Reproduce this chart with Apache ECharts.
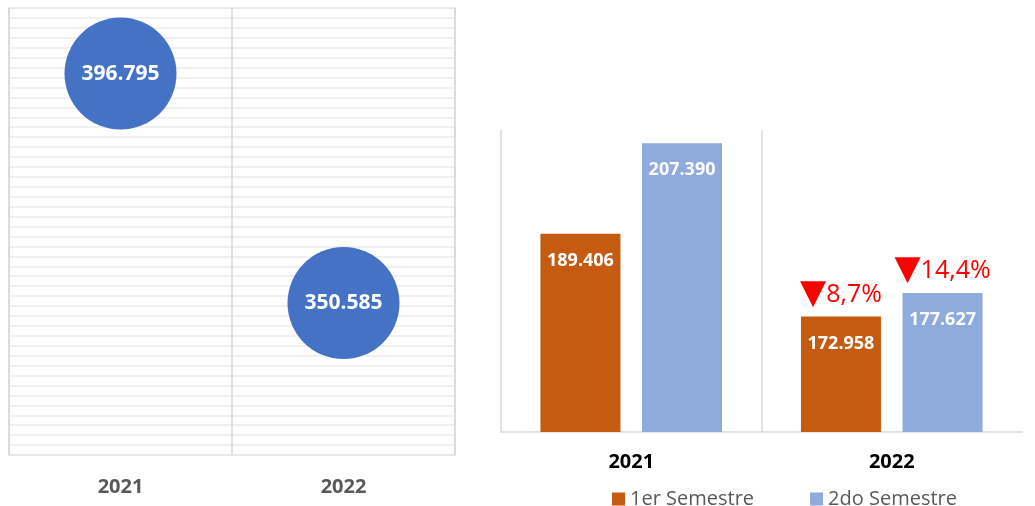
<!DOCTYPE html>
<html lang="es">
<head>
    <meta charset="utf-8" />
    <title>Semestres 2021 - 2022</title>
    <script type="text/javascript" src="https://cdn.jsdelivr.net/npm/echarts@6/dist/echarts.min.js"></script>
    <style>
        html, body { margin: 0; padding: 0; background: #fff; }
        #chart { width: 1035px; height: 506px; }
    </style>
</head>
<body>
    <div id="chart"></div>

    <script type="text/javascript">
        // datos
        var years = ['2021', '2022'];
        var totals = [396795, 350585];
        var sem1 = [189406, 172958];
        var sem2 = [207390, 177627];
        var drop1 = ['', '8,7%'];
        var drop2 = ['', '14,4%'];

        var font = 'Open Sans';

        function fmt(v) {
            return String(v).replace(/\B(?=(\d{3})+(?!\d))/g, '.');
        }

        function dropMarks(values, drops) {
            var out = [];
            for (var i = 0; i < values.length; i++) {
                if (drops[i] !== '') {
                    out.push({ coord: [i, values[i]], value: drops[i] });
                }
            }
            return out;
        }

        var dropLabel = {
            show: true,
            position: 'top',
            distance: 5,
            formatter: function (p) { return '{t|▼}{p|' + p.value + '}'; },
            rich: {
                t: { fontFamily: 'DejaVu Sans', fontSize: 34, color: '#ff0000', verticalAlign: 'bottom' },
                p: { fontFamily: font, fontSize: 25, color: '#ff0000', verticalAlign: 'bottom', padding: [0, 0, 4, 0] }
            }
        };

        var chart = echarts.init(document.getElementById('chart'));

        var option = {
            animation: false,
            textStyle: { fontFamily: font },
            grid: [
                { left: 9, top: 8, width: 446, height: 447, show: true, borderColor: '#d9d9d9', borderWidth: 1.5 },
                { left: 501, top: 130, width: 521, height: 302 }
            ],
            legend: {
                data: ['1er Semestre', '2do Semestre'],
                left: 607,
                top: 484,
                icon: 'rect',
                itemWidth: 13,
                itemHeight: 13,
                itemGap: 56,
                textStyle: { fontFamily: font, fontSize: 20, color: '#595959' }
            },
            xAxis: [{
                gridIndex: 0,
                type: 'category',
                data: years,
                boundaryGap: true,
                axisLine: { show: false },
                axisTick: { show: false },
                splitLine: { show: true, lineStyle: { color: '#d9d9d9', width: 1.5 } },
                axisLabel: { margin: 22, fontFamily: font, fontSize: 20, fontWeight: 'bold', color: '#595959' }
            }, {
                gridIndex: 1,
                type: 'category',
                data: years,
                boundaryGap: true,
                axisLine: { show: true, lineStyle: { color: '#d9d9d9', width: 1.5 } },
                axisTick: { show: false },
                splitLine: { show: true, showMaxLine: false, lineStyle: { color: '#d9d9d9', width: 1.5 } },
                axisLabel: { margin: 20, fontFamily: font, fontSize: 20, fontWeight: 'bold', color: '#000' }
            }],
            yAxis: [{
                gridIndex: 0,
                type: 'value',
                min: 320000,
                max: 410000,
                interval: 2000,
                axisLine: { show: false },
                axisTick: { show: false },
                axisLabel: { show: false },
                splitLine: { show: true, lineStyle: { color: '#ebebeb', width: 1.5 } }
            }, {
                gridIndex: 1,
                type: 'value',
                min: 150000,
                max: 210000,
                axisLine: { show: false },
                axisTick: { show: false },
                axisLabel: { show: false },
                splitLine: { show: false }
            }],
            series: [{
                type: 'scatter',
                xAxisIndex: 0,
                yAxisIndex: 0,
                symbolSize: 112,
                itemStyle: { color: '#4472c4', opacity: 1 },
                data: totals.map(function (v, i) { return [i, v]; }),
                label: {
                    show: true,
                    position: 'inside',
                    formatter: function (p) { return fmt(p.value[1]); },
                    fontFamily: font,
                    fontSize: 21,
                    fontWeight: 'bold',
                    color: '#fff'
                }
            }, {
                name: '1er Semestre',
                type: 'bar',
                xAxisIndex: 1,
                yAxisIndex: 1,
                barWidth: 80,
                barGap: '27%',
                itemStyle: { color: '#c55a11' },
                data: sem1,
                label: {
                    show: true,
                    position: 'insideTop',
                    distance: 18,
                    formatter: function (p) { return fmt(p.value); },
                    fontFamily: font,
                    fontSize: 18,
                    fontWeight: 'bold',
                    color: '#fff'
                },
                markPoint: {
                    symbol: 'circle',
                    symbolSize: 1,
                    itemStyle: { color: 'rgba(0,0,0,0)' },
                    label: dropLabel,
                    data: dropMarks(sem1, drop1)
                }
            }, {
                name: '2do Semestre',
                type: 'bar',
                xAxisIndex: 1,
                yAxisIndex: 1,
                barWidth: 80,
                itemStyle: { color: '#8faadc' },
                data: sem2,
                label: {
                    show: true,
                    position: 'insideTop',
                    distance: 18,
                    formatter: function (p) { return fmt(p.value); },
                    fontFamily: font,
                    fontSize: 18,
                    fontWeight: 'bold',
                    color: '#fff'
                },
                markPoint: {
                    symbol: 'circle',
                    symbolSize: 1,
                    itemStyle: { color: 'rgba(0,0,0,0)' },
                    label: dropLabel,
                    data: dropMarks(sem2, drop2)
                }
            }]
        };

        chart.setOption(option);
    </script>
</body>
</html>
